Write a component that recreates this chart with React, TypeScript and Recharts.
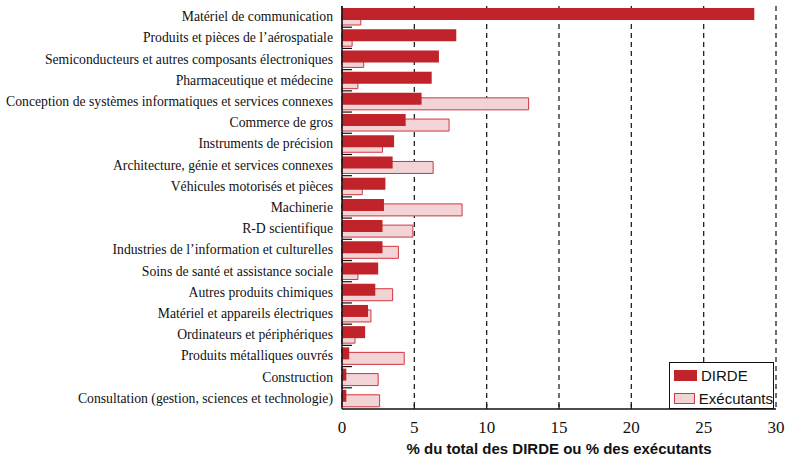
import { BarChart, Bar, XAxis, YAxis, CartesianGrid, Legend } from "recharts";

// Share of business R&D (DIRDE) and of performing firms, by industry.
const categories = [
  "Matériel de communication",
  "Produits et pièces de l’aérospatiale",
  "Semiconducteurs et autres composants électroniques",
  "Pharmaceutique et médecine",
  "Conception de systèmes informatiques et services connexes",
  "Commerce de gros",
  "Instruments de précision",
  "Architecture, génie et services connexes",
  "Véhicules motorisés et pièces",
  "Machinerie",
  "R-D scientifique",
  "Industries de l’information et culturelles",
  "Soins de santé et assistance sociale",
  "Autres produits chimiques",
  "Matériel et appareils électriques",
  "Ordinateurs et périphériques",
  "Produits métalliques ouvrés",
  "Construction",
  "Consultation (gestion, sciences et technologie)",
];

const dirde = [28.5, 7.9, 6.7, 6.2, 5.5, 4.4, 3.6, 3.5, 3.0, 2.9, 2.8, 2.8, 2.5, 2.3, 1.8, 1.6, 0.5, 0.3, 0.3];
const executants = [1.3, 0.7, 1.5, 1.1, 12.9, 7.4, 2.8, 6.3, 1.4, 8.3, 4.9, 3.9, 1.1, 3.5, 2.0, 0.9, 4.3, 2.5, 2.6];

const xTicks = [0, 5, 10, 15, 20, 25, 30];

const data = categories.map((name, i) => ({
  name,
  dirde: dirde[i],
  executants: executants[i],
}));

const RED = "#C1232B";
const PINK = "#F2D4D6";
const PINK_EDGE = "#D2363E";

const SERIF = "'Liberation Serif', 'DejaVu Serif', serif";
const SANS = "'Liberation Sans', Arial, sans-serif";

const CHART_W = 787;
const CHART_H = 458;
const MARGIN = { top: 6, right: 11, bottom: 0, left: 0 };
const X_AXIS_H = 49;
const Y_AXIS_W = 342;
const PLOT_H = CHART_H - MARGIN.top - MARGIN.bottom - X_AXIS_H;
const BAND = PLOT_H / categories.length;

function BottomTick({ x, y, payload }: any) {
  const v = payload.value;
  return (
    <g>
      {v > 0 && v < 30 && <line x1={x} x2={x} y1={y} y2={y - 5} stroke="#111" strokeWidth={1.2} />}
      <text x={x} y={y + 24} textAnchor="middle" fontFamily={SERIF} fontSize={17} fill="#111">
        {v}
      </text>
    </g>
  );
}

function TopTick({ x, y, payload }: any) {
  const v = payload.value;
  if (v <= 0 || v >= 30) return null;
  return <line x1={x} x2={x} y1={y} y2={y + 6} stroke="#111" strokeWidth={1.2} />;
}

function CategoryTick({ x, y, payload, index }: any) {
  return (
    <g>
      {index < categories.length - 1 && (
        <line x1={x} x2={x + 10} y1={y + BAND / 2} y2={y + BAND / 2} stroke="#111" strokeWidth={1.2} />
      )}
      <text x={x - 9} y={y} dy={4.5} textAnchor="end" fontFamily={SERIF} fontSize={13.7} fill="#111">
        {payload.value}
      </text>
    </g>
  );
}

function LegendBox() {
  const row = (fill: string, stroke: string, label: string) => (
    <div style={{ display: "flex", alignItems: "center", height: 23 }}>
      <span
        style={{
          display: "inline-block",
          width: 21,
          height: 9,
          background: fill,
          border: `1px solid ${stroke}`,
          marginRight: 4,
        }}
      />
      <span style={{ fontFamily: SANS, fontSize: 15, color: "#111" }}>{label}</span>
    </div>
  );
  return (
    <div
      style={{
        width: 105,
        height: 47,
        border: "1.5px solid #111",
        background: "#fff",
        padding: "1px 0 0 4px",
        boxSizing: "border-box",
      }}
    >
      {row(RED, RED, "DIRDE")}
      {row(PINK, PINK_EDGE, "Exécutants")}
    </div>
  );
}

export default function App() {
  return (
    <div style={{ position: "absolute", left: 0, top: 0, width: CHART_W, height: CHART_H, background: "#fff" }}>
      <BarChart
        width={CHART_W}
        height={CHART_H}
        data={data}
        layout="vertical"
        margin={MARGIN}
        barSize={12}
        barGap={-17}
      >
        <CartesianGrid horizontal={false} stroke="#222" strokeDasharray="5 4" strokeWidth={1.3} />
        <XAxis
          type="number"
          domain={[0, 30]}
          ticks={xTicks}
          height={X_AXIS_H}
          tickSize={0}
          tickMargin={0}
          tickLine={false}
          axisLine={{ stroke: "#111", strokeWidth: 1.5 }}
          tick={<BottomTick />}
          label={{
            value: "% du total des DIRDE ou % des exécutants",
            position: "insideBottom",
            offset: 4,
            style: { fontFamily: SANS, fontSize: 15, fontWeight: 700, fill: "#111" },
          }}
        />
        <XAxis
          xAxisId="top"
          orientation="top"
          type="number"
          domain={[0, 30]}
          ticks={xTicks}
          height={0}
          tickSize={0}
          tickMargin={0}
          tickLine={false}
          axisLine={{ stroke: "#111", strokeWidth: 1.5 }}
          tick={<TopTick />}
        />
        <YAxis
          type="category"
          dataKey="name"
          width={Y_AXIS_W}
          tickSize={0}
          tickMargin={0}
          tickLine={false}
          interval={0}
          axisLine={{ stroke: "#111", strokeWidth: 1.5 }}
          tick={<CategoryTick />}
        />
        <YAxis
          yAxisId="right"
          orientation="right"
          type="category"
          dataKey="name"
          width={0}
          tick={false}
          tickLine={false}
          axisLine={{ stroke: "#111", strokeWidth: 1.5 }}
        />
        <Bar
          dataKey="executants"
          name="Exécutants"
          fill={PINK}
          stroke={PINK_EDGE}
          strokeWidth={1}
          isAnimationActive={false}
        />
        <Bar dataKey="dirde" name="DIRDE" fill={RED} isAnimationActive={false} />
        <Legend
          layout="vertical"
          align="center"
          verticalAlign="middle"
          content={() => <LegendBox />}
          wrapperStyle={{ left: 669, top: 362, width: 105, height: 47 }}
        />
      </BarChart>
    </div>
  );
}
